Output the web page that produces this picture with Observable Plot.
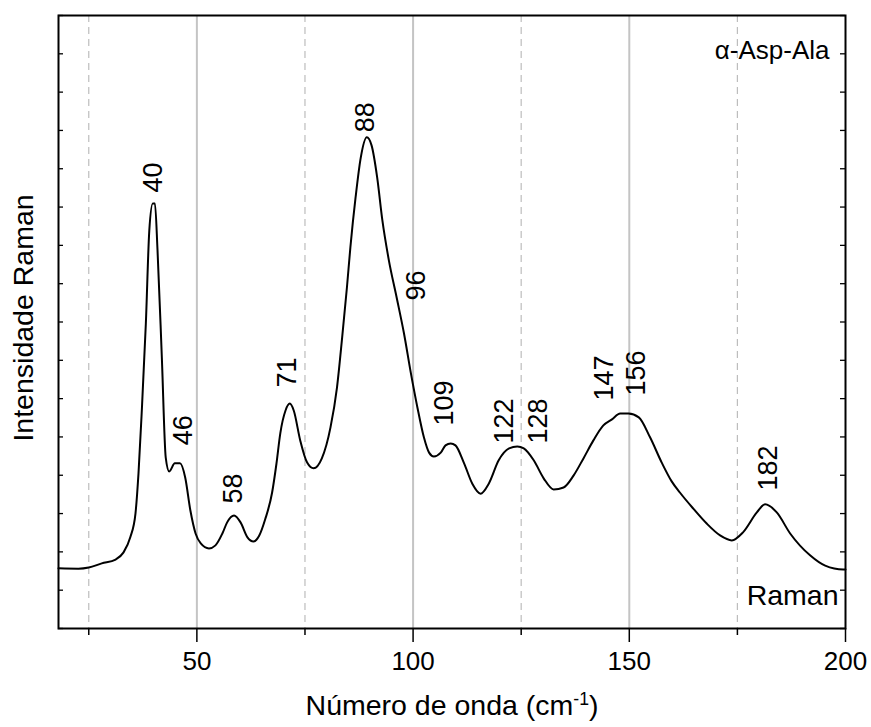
<!DOCTYPE html>
<html><head><meta charset="utf-8">
<script src="https://cdn.jsdelivr.net/npm/d3@7"></script>
<script src="https://cdn.jsdelivr.net/npm/@observablehq/plot@0.6"></script>
<style>body{margin:0;background:#fff;} svg{display:block}</style>
</head><body><div id="chart"></div>
<script>
const wavenumber = [18,22.6,25,28,31.2,33,34.6,35.8,36.5,37.3,38.2,39,39.8,40.3,40.9,41.9,42.8,43.6,44.9,46.1,47.3,48.5,49.7,50.9,52.8,54.3,55.9,57,58.6,60.1,61.7,63.1,64.4,65.8,67.4,68.4,69.3,70.5,71.5,72.4,73.9,75.5,77,78.9,80.9,82.4,83.6,84.7,85.5,86.7,87.9,89.3,90.4,91.7,92.9,94.4,96.2,97.9,99.5,101,102.5,103.7,104.8,106.4,107.5,108.7,109.8,111.8,113.7,115.6,117.5,119.8,122.2,124.1,125.6,127.9,130.2,132.5,134.8,137.1,139.4,141.7,144,146,147.9,149.8,152.2,154.8,157.5,159.8,161.7,164.8,167.9,171,173.7,176.3,179.5,181.4,184.1,187.2,191.8,195.3,199.5,200];
const intensity = [1.57,1.56,1.59,1.70,1.80,1.98,2.38,3.00,4.05,5.77,7.96,10.39,11.09,11.09,9.87,7.07,4.46,4.10,4.31,4.31,3.94,3.08,2.48,2.22,2.09,2.17,2.48,2.77,2.95,2.77,2.38,2.27,2.42,2.85,3.55,4.30,5.10,5.69,5.87,5.69,4.91,4.33,4.18,4.44,5.25,6.29,7.60,8.90,9.95,11.25,12.29,12.82,12.61,11.77,10.65,9.61,8.64,7.70,6.66,5.77,4.99,4.59,4.49,4.59,4.78,4.83,4.78,4.31,3.78,3.52,3.78,4.39,4.70,4.75,4.70,4.39,3.92,3.63,3.68,3.99,4.44,4.91,5.30,5.46,5.61,5.61,5.51,4.99,4.33,3.84,3.55,3.13,2.74,2.43,2.30,2.51,3.03,3.24,3.03,2.48,1.91,1.64,1.54,1.54];

const peakLabels = ["40","46","58","71","88","96","109","122","128","147","156","182"];
const peakLabelX = [40,46.9,58.4,71,88.9,100.7,107.2,121.1,129,144.2,151.6,182.1];
const peakLabelY = [11.38,4.78,3.26,6.29,12.95,8.56,5.30,4.83,4.83,5.95,6.08,3.60];

const majorTicksX = [50,100,150,200];
const minorTicksX = [25,75,125,175];
const solidGridX = [50,100,150];
const dashedGridX = [25,75,125,175];
const ticksY = [0,1,2,3,4,5,6,7,8,9,10,11,12,13,14,15,16];

const sampleName = "α-Asp-Ala";
const traceName = "Raman";
const xTitleMain = "Número de onda (cm";
const xTitleSup = "-1";
const xTitleEnd = ")";
const yTitle = "Intensidade Raman";

const spectrum = wavenumber.map((w, i) => ({w, v: intensity[i]}));
const peaks = peakLabels.map((t, i) => ({t, x: peakLabelX[i], y: peakLabelY[i]}));
const xTitleFull = xTitleMain + xTitleSup + xTitleEnd;

const W = 871, H = 727, mL = 58, mR = 26, mT = 15, mB = 99;
const frameW = W - mL - mR;
const FS = 26, FT = 28.5;

const chart = Plot.plot({
  width: W, height: H,
  marginLeft: mL, marginRight: mR, marginTop: mT, marginBottom: mB,
  style: {fontFamily: "'Liberation Sans', Arial, Helvetica, sans-serif", background: "#fff", color: "#000"},
  x: {domain: [18, 200], axis: null},
  y: {domain: [0, 16], axis: null},
  marks: [
    Plot.ruleX(dashedGridX, {stroke: "#bdbdbd", strokeWidth: 1.2, strokeDasharray: "7,5"}),
    Plot.ruleX(solidGridX, {stroke: "#c4c4c4", strokeWidth: 2}),
    Plot.tickY(ticksY, {y: d => d, stroke: "#000", strokeWidth: 1.3, insetRight: frameW - 5}),
    Plot.tickY(ticksY, {y: d => d, stroke: "#000", strokeWidth: 1.3, insetLeft: frameW - 5}),
    Plot.line(spectrum, {x: "w", y: "v", stroke: "#000", strokeWidth: 2, curve: "monotone-x"}),
    Plot.text(peaks, {x: "x", y: "y", text: "t", rotate: -90, textAnchor: "start", lineAnchor: "middle", fontSize: 27, fill: "#000"}),
    Plot.text([sampleName], {frameAnchor: "top-right", dx: -16, dy: 25, textAnchor: "end", lineAnchor: "top", fontSize: FS, fill: "#000"}),
    Plot.text([traceName], {frameAnchor: "bottom-right", dx: -7, dy: -44, textAnchor: "end", lineAnchor: "top", fontSize: 28.5, fill: "#000"}),
    Plot.axisX({ticks: majorTicksX, tickSize: 14, tickPadding: 9, tickFormat: d => String(d), fontSize: FS, label: null, strokeWidth: 1.5}),
    Plot.axisX({ticks: minorTicksX, tickSize: 7, tickFormat: () => "", label: null, strokeWidth: 1.5}),
    Plot.text([xTitleFull], {frameAnchor: "bottom", dy: 77, textAnchor: "middle", lineAnchor: "middle", fontSize: FT, fill: "#000"}),
    Plot.text([yTitle], {frameAnchor: "left", dx: -35, dy: -4, rotate: -90, textAnchor: "middle", lineAnchor: "middle", fontSize: FT, fill: "#000"}),
    Plot.frame({stroke: "#000", strokeWidth: 2})
  ]
});

// Render the "-1" as a real superscript inside the x-axis title
d3.select(chart).selectAll("text").each(function() {
  if (this.textContent === xTitleFull) {
    const t = d3.select(this);
    t.text(null);
    t.append("tspan").text(xTitleMain);
    t.append("tspan").attr("font-size", FT * 0.62).attr("dy", "-0.55em").text(xTitleSup);
    t.append("tspan").attr("dy", "0.34em").text(xTitleEnd);
  }
});

document.getElementById("chart").appendChild(chart);
</script>
</body></html>
